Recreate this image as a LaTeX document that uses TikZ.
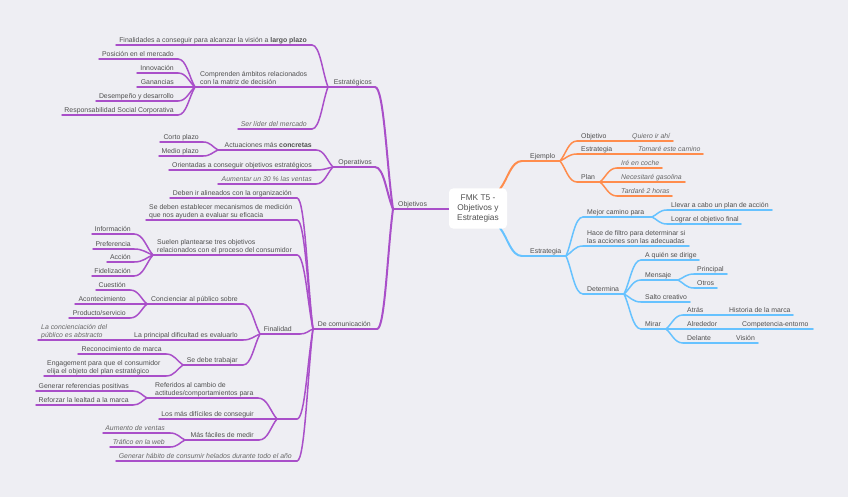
\documentclass[tikz,border=0pt]{standalone}
\usepackage{fontspec}
\setmainfont{Liberation Sans}
\usetikzlibrary{calc}
\definecolor{bg}{HTML}{EEEEF3}
\definecolor{pu}{HTML}{A94FC9}
\definecolor{og}{HTML}{FF8C4C}
\definecolor{bl}{HTML}{66C2FF}
\definecolor{tx}{HTML}{505050}
\definecolor{ti}{HTML}{686868}
\newcommand\itx[1]{\textcolor{ti}{\textit{#1}}}
\newcommand\twol[1]{\begin{tabular}[b]{@{}l@{}}#1\end{tabular}}
\newcommand\mtopic[7]{%
  \coordinate (#1L) at (#2,#4); \coordinate (#1R) at (#3,#4);
  \draw[ln] (#1L) -- (#1R);
  \node[txt,anchor=#5] (#1) at (#6,#4-2.5) {#7};}
\newcommand\mlink[3][]{\draw[ln,#1] (#2) .. controls ($(#2)!0.5!(#3|-#2)$) and ($(#3)!0.35!(#2)$) .. (#3);}
\tikzset{
  txt/.style={inner sep=0pt, text=tx, font=\fontsize{6.9}{8.4}\selectfont},
  main/.style={line width=2pt}
}
\begin{document}
\begin{tikzpicture}[x=1pt,y=-1pt]
\fill[bg] (0,0) rectangle (848,497);
\useasboundingbox (0,0) rectangle (848,497);
\coordinate (rootT) at (500,189);
\coordinate (rootB) at (500,228);
% ---------------- left: Objetivos (purple)
\begin{scope}[ln/.style={draw=pu,line width=1.5pt,line cap=round}]
\mtopic{obj}{393}{450}{209}{base west}{398}{Objetivos}
\mtopic{est}{328}{375}{87}{base east}{372}{Estratégicos}
\mtopic{fin}{116}{312}{45}{base east}{307}{Finalidades a conseguir para alcanzar la visión a \textbf{largo plazo}}
\mtopic{comp}{195}{318}{87}{base west}{200}{\twol{Comprenden ámbitos relacionados\\con la matriz de decisión}}
\mtopic{pos}{99}{178}{59}{base east}{174}{Posición en el mercado}
\mtopic{inn}{137}{178}{73}{base east}{174}{Innovación}
\mtopic{gan}{137}{178}{87}{base east}{174}{Ganancias}
\mtopic{des}{96}{178}{101}{base east}{174}{Desempeño y desarrollo}
\mtopic{rsc}{62}{178}{115}{base east}{174}{Responsabilidad Social Corporativa}
\mtopic{lid}{238}{312}{129}{base east}{307}{\itx{Ser líder del mercado}}
\mtopic{ope}{333}{375}{167}{base east}{372}{Operativos}
\mtopic{act}{218}{316}{150}{base east}{312}{Actuaciones más \textbf{concretas}}
\mtopic{cor}{160}{203}{142}{base east}{199}{Corto plazo}
\mtopic{med}{159}{203}{156}{base east}{199}{Medio plazo}
\mtopic{ori}{169}{316}{170}{base east}{312}{Orientadas a conseguir objetivos estratégicos}
\mtopic{aum}{218}{316}{184}{base east}{312}{\itx{Aumentar un 30 \% las ventas}}
\mtopic{com}{313}{377}{329}{base east}{371}{De comunicación}
\mtopic{deb}{170}{297}{198}{base east}{292}{Deben ir alineados con la organización}
\mtopic{sed}{146}{297}{220}{base west}{149}{\twol{Se deben establecer mecanismos de medición\\que nos ayuden a evaluar su eficacia}}
\mtopic{sue}{153}{297}{255}{base west}{157}{\twol{Suelen plantearse tres objetivos\\relacionados con el proceso del consumidor}}
\mtopic{inf}{92}{134}{234}{base east}{131}{Información}
\mtopic{pre}{93}{134}{249}{base east}{131}{Preferencia}
\mtopic{acc}{107}{134}{262}{base east}{131}{Acción}
\mtopic{fid}{92}{134}{276}{base east}{131}{Fidelización}
\mtopic{fnl}{260}{300}{334}{base east}{292}{Finalidad}
\mtopic{con}{147}{243}{304}{base east}{238}{Concienciar al público sobre}
\mtopic{cue}{96}{130}{290}{base east}{126}{Cuestión}
\mtopic{aco}{75}{130}{304}{base east}{126}{Acontecimiento}
\mtopic{pro}{69}{130}{318}{base east}{126}{Producto/servicio}
\mtopic{pri}{132}{243}{340}{base east}{238}{La principal dificultad es evaluarlo}
\mtopic{abs}{38}{132}{340}{base west}{41}{\itx{\twol{La concienciación del\\público es abstracto}}}
\mtopic{sdt}{183}{243}{365}{base east}{238}{Se debe trabajar}
\mtopic{rec}{78}{166}{354}{base east}{162}{Reconocimiento de marca}
\mtopic{eng}{44}{166}{376}{base west}{47}{\twol{Engagement para que el consumidor\\elija el objeto del plan estratégico}}
\mtopic{gru}{277}{297}{419}{base east}{292}{}
\mtopic{ref}{147}{258}{398}{base west}{155}{\twol{Referidos al cambio de\\actitudes/comportamientos para}}
\mtopic{gen}{36}{133}{391}{base east}{129}{Generar referencias positivas}
\mtopic{rfz}{36}{133}{405}{base east}{129}{Reforzar la lealtad a la marca}
\mtopic{dif}{159}{277}{419}{base east}{254}{Los más difíciles de conseguir}
\mtopic{fac}{185}{259}{440}{base east}{254}{Más fáciles de medir}
\mtopic{ave}{103}{170}{433}{base east}{165}{\itx{Aumento de ventas}}
\mtopic{tra}{110}{170}{447}{base east}{165}{\itx{Tráfico en la web}}
\mtopic{hab}{116}{297}{461}{base east}{292}{\itx{Generar hábito de consumir helados durante todo el año}}
% links
\mlink[main]{estR}{objL}
\mlink[main]{opeR}{objL}
\mlink[main]{comR}{objL}
\mlink{finR}{estL}
\mlink{compR}{estL}
\mlink{lidR}{estL}
\mlink{posR}{compL}
\mlink{innR}{compL}
\mlink{ganR}{compL}
\mlink{desR}{compL}
\mlink{rscR}{compL}
\mlink{actR}{opeL}
\mlink{oriR}{opeL}
\mlink{aumR}{opeL}
\mlink{corR}{actL}
\mlink{medR}{actL}
\mlink{debR}{comL}
\mlink{sedR}{comL}
\mlink{sueR}{comL}
\mlink{fnlR}{comL}
\mlink{gruR}{comL}
\mlink{habR}{comL}
\mlink{infR}{sueL}
\mlink{preR}{sueL}
\mlink{accR}{sueL}
\mlink{fidR}{sueL}
\mlink{conR}{fnlL}
\mlink{priR}{fnlL}
\mlink{sdtR}{fnlL}
\mlink{cueR}{conL}
\mlink{acoR}{conL}
\mlink{proR}{conL}
\mlink{absR}{priL}
\mlink{recR}{sdtL}
\mlink{engR}{sdtL}
\mlink{refR}{gruL}
\mlink{difR}{gruL}
\mlink{facR}{gruL}
\mlink{genR}{refL}
\mlink{rfzR}{refL}
\mlink{aveR}{facL}
\mlink{traR}{facL}
\end{scope}
% ---------------- right: Ejemplo (orange)
\begin{scope}[ln/.style={draw=og,line width=1.5pt,line cap=round}]
\mtopic{eje}{522}{560}{161}{base west}{530}{Ejemplo}
\mtopic{objv}{577}{620}{141}{base west}{581}{Objetivo}
\mtopic{qui}{620}{673}{141}{base west}{632}{\itx{Quiero ir ahí}}
\mtopic{estr}{577}{626}{154}{base west}{581}{Estrategia}
\mtopic{tom}{626}{703}{154}{base west}{638}{\itx{Tomaré este camino}}
\mtopic{plan}{577}{600}{182}{base west}{581}{Plan}
\mtopic{ire}{617}{662}{168}{base west}{621}{\itx{Iré en coche}}
\mtopic{nec}{617}{685}{182}{base west}{621}{\itx{Necesitaré gasolina}}
\mtopic{tar}{617}{672}{196}{base west}{621}{\itx{Tardaré 2 horas}}
\mlink[main]{ejeL}{rootT}
\mlink{objvL}{ejeR}
\mlink{estrL}{ejeR}
\mlink{planL}{ejeR}
\mlink{quiL}{objvR}
\mlink{tomL}{estrR}
\mlink{ireL}{planR}
\mlink{necL}{planR}
\mlink{tarL}{planR}
\end{scope}
% ---------------- right: Estrategia (blue)
\begin{scope}[ln/.style={draw=bl,line width=1.5pt,line cap=round}]
\mtopic{estg}{522}{566}{256}{base west}{530}{Estrategia}
\mtopic{mej}{583}{652}{217}{base west}{587}{Mejor camino para}
\mtopic{lle}{667}{772}{210}{base west}{671}{Llevar a cabo un plan de acción}
\mtopic{log}{667}{741}{224}{base west}{671}{Lograr el objetivo final}
\mtopic{hac}{583}{689}{246}{base west}{587}{\twol{Hace de filtro para determinar si\\las acciones son las adecuadas}}
\mtopic{det}{583}{624}{294}{base west}{587}{Determina}
\mtopic{aqu}{641}{699}{260}{base west}{645}{A quién se dirige}
\mtopic{men}{641}{678}{280}{base west}{645}{Mensaje}
\mtopic{prin}{694}{727}{274}{base west}{697}{Principal}
\mtopic{otr}{694}{717}{288}{base west}{697}{Otros}
\mtopic{sal}{641}{690}{302}{base west}{645}{Salto creativo}
\mtopic{mir}{641}{666}{329}{base west}{645}{Mirar}
\mtopic{atr}{683}{720}{315}{base west}{687}{Atrás}
\mtopic{his}{720}{793}{315}{base west}{729}{Historia de la marca}
\mtopic{alr}{683}{730}{329}{base west}{687}{Alrededor}
\mtopic{cmp}{730}{813}{329}{base west}{742}{Competencia-entorno}
\mtopic{del}{683}{725}{343}{base west}{687}{Delante}
\mtopic{vis}{725}{758}{343}{base west}{736}{Visión}
\mlink[main]{estgL}{rootB}
\mlink{mejL}{estgR}
\mlink{hacL}{estgR}
\mlink{detL}{estgR}
\mlink{lleL}{mejR}
\mlink{logL}{mejR}
\mlink{aquL}{detR}
\mlink{menL}{detR}
\mlink{salL}{detR}
\mlink{mirL}{detR}
\mlink{prinL}{menR}
\mlink{otrL}{menR}
\mlink{atrL}{mirR}
\mlink{alrL}{mirR}
\mlink{delL}{mirR}
\mlink{hisL}{atrR}
\mlink{cmpL}{alrR}
\mlink{visL}{delR}
\end{scope}
% ---------------- central topic
\node[fill=white, rounded corners=4pt, minimum width=58pt, minimum height=40pt,
      inner sep=0pt, align=center, text=tx, font=\fontsize{8.3}{10.4}\selectfont]
      (root) at (478,208.5) {FMK T5 -\\Objetivos y\\Estrategias};
\end{tikzpicture}
\end{document}
